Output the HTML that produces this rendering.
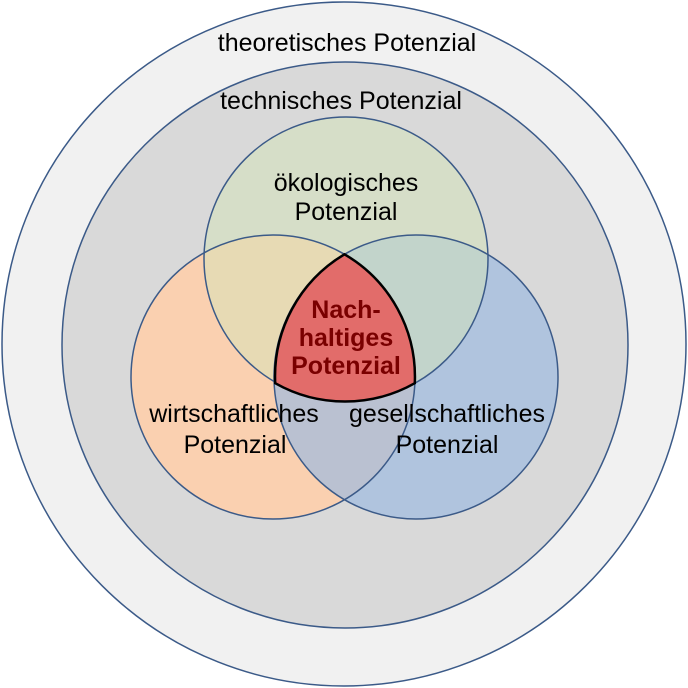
<!DOCTYPE html>
<html><head><meta charset="utf-8"><style>
html,body{margin:0;padding:0;background:#fff}
svg{display:block}
text{font-family:"Liberation Sans",Arial,sans-serif;font-size:25px;fill:#000;text-anchor:middle}
</style></head><body>
<svg width="688" height="688" viewBox="0 0 688 688" xmlns="http://www.w3.org/2000/svg">
<circle cx="344" cy="344" r="342" fill="#f1f1f1" stroke="#3b5a88" stroke-width="1.5"/>
<circle cx="345" cy="345" r="283" fill="#d9d9d9" stroke="#3b5a88" stroke-width="1.5"/>
<circle cx="273" cy="377" r="142" fill="#fad0b0"/>
<circle cx="416" cy="377" r="142" fill="#9ebbe0" fill-opacity="0.7"/>
<circle cx="346" cy="259" r="142" fill="#d3e3b7" fill-opacity="0.5"/>
<circle cx="273" cy="377" r="142" fill="none" stroke="#3b5a88" stroke-width="1.5"/>
<circle cx="416" cy="377" r="142" fill="none" stroke="#3b5a88" stroke-width="1.5"/>
<circle cx="346" cy="259" r="142" fill="none" stroke="#3b5a88" stroke-width="1.5"/>
<path d="M344.5,254.3 A142,142 0 0 1 414.8,383.2 A142,142 0 0 1 275.2,383.2 A142,142 0 0 1 344.5,254.3 Z" fill="#e26c6a" stroke="#000" stroke-width="2.5"/>
<text x="347" y="51">theoretisches Potenzial</text>
<text x="341" y="109">technisches Potenzial</text>
<text x="346" y="191">ökologisches</text>
<text x="346" y="220">Potenzial</text>
<text x="234" y="422">wirtschaftliches</text>
<text x="235" y="453">Potenzial</text>
<text x="447" y="422">gesellschaftliches</text>
<text x="447" y="453">Potenzial</text>
<text x="346" y="318" style="font-weight:bold;fill:#7a0000">Nach-</text>
<text x="346" y="346" style="font-weight:bold;fill:#7a0000">haltiges</text>
<text x="346" y="374" style="font-weight:bold;fill:#7a0000">Potenzial</text>
</svg>
</body></html>
